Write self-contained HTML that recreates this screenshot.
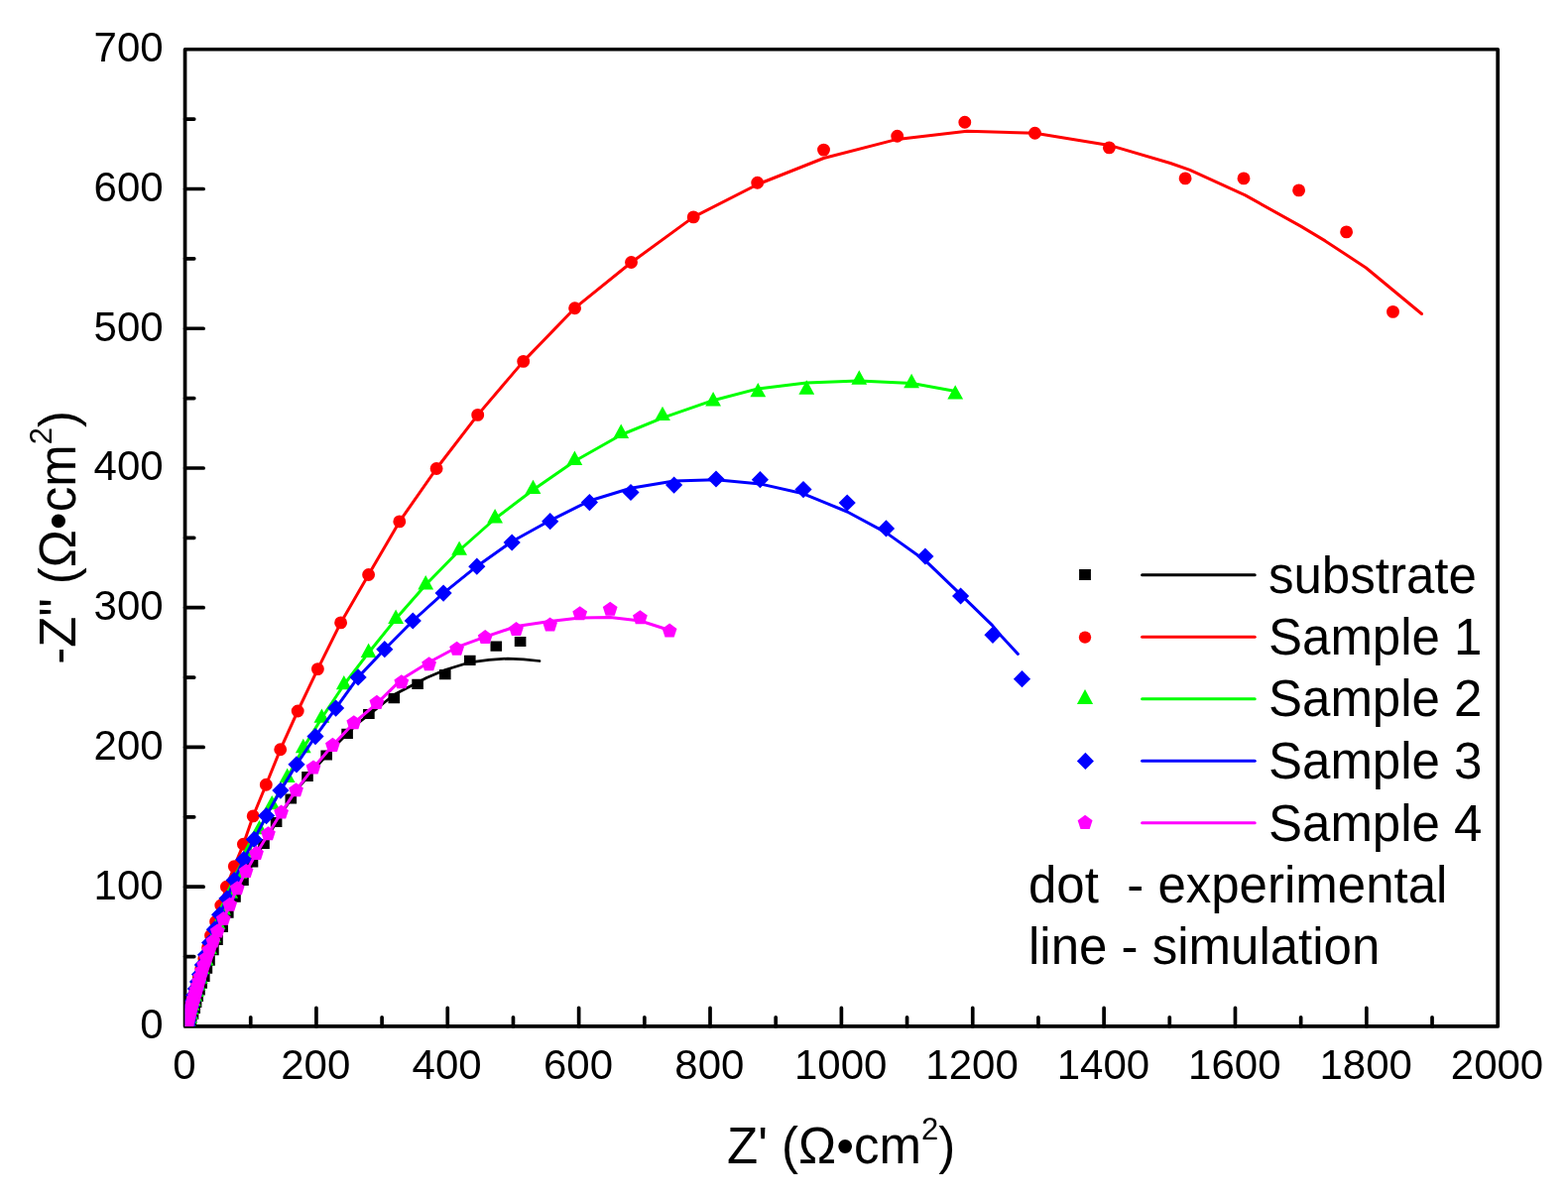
<!DOCTYPE html><html><head><meta charset="utf-8"><title>Nyquist plot</title><style>html,body{margin:0;padding:0;background:#fff;}svg{display:block;}text{font-family:"Liberation Sans",Arial,sans-serif;fill:#000;}</style></head><body>
<svg width="1581" height="1209" viewBox="0 0 1581 1209">
<rect width="1581" height="1209" fill="#fff"/>
<defs><clipPath id="c"><rect x="186.55" y="49.75" width="1323.65" height="985.20"/></clipPath></defs>
<rect x="186.55" y="49.75" width="1323.65" height="985.20" fill="none" stroke="#000" stroke-width="3.7" stroke-linejoin="round"/>
<path d="M252.73,1034.95V1025.75M318.92,1034.95V1016.35M385.10,1034.95V1025.75M451.28,1034.95V1016.35M517.46,1034.95V1025.75M583.64,1034.95V1016.35M649.83,1034.95V1025.75M716.01,1034.95V1016.35M782.19,1034.95V1025.75M848.38,1034.95V1016.35M914.56,1034.95V1025.75M980.74,1034.95V1016.35M1046.92,1034.95V1025.75M1113.11,1034.95V1016.35M1179.29,1034.95V1025.75M1245.47,1034.95V1016.35M1311.65,1034.95V1025.75M1377.84,1034.95V1016.35M1444.02,1034.95V1025.75M186.55,964.58H195.75M186.55,894.21H205.15M186.55,823.84H195.75M186.55,753.46H205.15M186.55,683.09H195.75M186.55,612.72H205.15M186.55,542.35H195.75M186.55,471.98H205.15M186.55,401.61H195.75M186.55,331.24H205.15M186.55,260.86H195.75M186.55,190.49H205.15M186.55,120.12H195.75" stroke="#000" stroke-width="3.7" stroke-linecap="round" fill="none"/>
<text transform="translate(185.85,1088.1)" font-size="42" text-anchor="middle">0</text>
<text transform="translate(318.22,1088.1)" font-size="42" text-anchor="middle">200</text>
<text transform="translate(450.58,1088.1)" font-size="42" text-anchor="middle">400</text>
<text transform="translate(582.94,1088.1)" font-size="42" text-anchor="middle">600</text>
<text transform="translate(715.31,1088.1)" font-size="42" text-anchor="middle">800</text>
<text transform="translate(847.67,1088.1)" font-size="42" text-anchor="middle">1000</text>
<text transform="translate(980.04,1088.1)" font-size="42" text-anchor="middle">1200</text>
<text transform="translate(1112.40,1088.1)" font-size="42" text-anchor="middle">1400</text>
<text transform="translate(1244.77,1088.1)" font-size="42" text-anchor="middle">1600</text>
<text transform="translate(1377.13,1088.1)" font-size="42" text-anchor="middle">1800</text>
<text transform="translate(1509.50,1088.1)" font-size="42" text-anchor="middle">2000</text>
<text transform="translate(164.6,1047.35)" font-size="42" text-anchor="end">0</text>
<text transform="translate(164.6,906.61)" font-size="42" text-anchor="end">100</text>
<text transform="translate(164.6,765.86)" font-size="42" text-anchor="end">200</text>
<text transform="translate(164.6,625.12)" font-size="42" text-anchor="end">300</text>
<text transform="translate(164.6,484.38)" font-size="42" text-anchor="end">400</text>
<text transform="translate(164.6,343.64)" font-size="42" text-anchor="end">500</text>
<text transform="translate(164.6,202.89)" font-size="42" text-anchor="end">600</text>
<text transform="translate(164.6,62.15)" font-size="42" text-anchor="end">700</text>
<text x="733" y="1172.7" font-size="51">Z&#39; (Ω•cm<tspan font-size="31" dy="-24">2</tspan><tspan dy="24">)</tspan></text>
<text transform="translate(76,669.7) rotate(-90)" x="0" y="0" font-size="51">-Z" (Ω•cm<tspan font-size="31" dy="-24">2</tspan><tspan dy="24">)</tspan></text>
<g clip-path="url(#c)">
<path d="M518.80,641.90h11.6v10.2h-11.6zM494.50,646.50h11.6v10.2h-11.6zM468.00,660.70h11.6v10.2h-11.6zM443.00,675.10h11.6v10.2h-11.6zM415.30,684.70h11.6v10.2h-11.6zM391.50,699.00h11.6v10.2h-11.6zM366.10,714.90h11.6v10.2h-11.6zM344.30,734.80h11.6v10.2h-11.6zM323.40,756.40h11.6v10.2h-11.6zM304.20,777.90h11.6v10.2h-11.6zM287.50,800.40h11.6v10.2h-11.6zM272.80,823.90h11.6v10.2h-11.6zM260.20,845.90h11.6v10.2h-11.6zM248.70,864.40h11.6v10.2h-11.6zM239.20,882.90h11.6v10.2h-11.6zM231.20,899.50h11.6v10.2h-11.6zM224.00,915.50h11.6v10.2h-11.6zM218.40,929.70h11.6v10.2h-11.6zM213.20,942.70h11.6v10.2h-11.6zM209.10,953.10h11.6v10.2h-11.6zM205.20,963.50h11.6v10.2h-11.6zM202.60,971.60h11.6v10.2h-11.6zM200.00,979.90h11.6v10.2h-11.6zM197.40,986.50h11.6v10.2h-11.6zM195.20,993.40h11.6v10.2h-11.6zM193.40,999.90h11.6v10.2h-11.6zM191.80,1005.90h11.6v10.2h-11.6zM190.40,1011.90h11.6v10.2h-11.6zM188.70,1017.90h11.6v10.2h-11.6z" fill="#000000"/>
<path d="M544.00,666.50 L528.00,664.80 L512.00,664.10 L493.00,665.30 L474.00,667.80 L448.80,675.50 L430.00,683.50 L420.50,688.50 L397.30,700.50 L380.00,714.50 L360.00,730.00 L340.00,750.00 L320.00,772.00 L301.00,794.00 L286.00,817.00 L272.00,840.00 L260.00,861.00 L250.00,880.00 L241.00,899.00 L233.50,916.00 L227.00,931.00 L221.00,946.00 L215.50,960.00 L211.00,972.00 L207.00,984.00 L203.50,996.00 L200.50,1008.00 L198.00,1020.00 L196.50,1036.00" fill="none" stroke="#000000" stroke-width="2.7" stroke-linejoin="round" stroke-linecap="round"/>
<path d="M1398.05,314.40a6.45,6.45 0 1,0 12.9,0a6.45,6.45 0 1,0 -12.9,0zM1351.15,233.90a6.45,6.45 0 1,0 12.9,0a6.45,6.45 0 1,0 -12.9,0zM1303.15,191.90a6.45,6.45 0 1,0 12.9,0a6.45,6.45 0 1,0 -12.9,0zM1247.55,179.90a6.45,6.45 0 1,0 12.9,0a6.45,6.45 0 1,0 -12.9,0zM1188.65,179.90a6.45,6.45 0 1,0 12.9,0a6.45,6.45 0 1,0 -12.9,0zM1111.95,148.90a6.45,6.45 0 1,0 12.9,0a6.45,6.45 0 1,0 -12.9,0zM1037.05,134.30a6.45,6.45 0 1,0 12.9,0a6.45,6.45 0 1,0 -12.9,0zM966.35,123.20a6.45,6.45 0 1,0 12.9,0a6.45,6.45 0 1,0 -12.9,0zM898.25,137.30a6.45,6.45 0 1,0 12.9,0a6.45,6.45 0 1,0 -12.9,0zM824.05,151.10a6.45,6.45 0 1,0 12.9,0a6.45,6.45 0 1,0 -12.9,0zM757.25,184.30a6.45,6.45 0 1,0 12.9,0a6.45,6.45 0 1,0 -12.9,0zM692.75,218.90a6.45,6.45 0 1,0 12.9,0a6.45,6.45 0 1,0 -12.9,0zM630.05,264.50a6.45,6.45 0 1,0 12.9,0a6.45,6.45 0 1,0 -12.9,0zM573.15,310.70a6.45,6.45 0 1,0 12.9,0a6.45,6.45 0 1,0 -12.9,0zM521.25,364.40a6.45,6.45 0 1,0 12.9,0a6.45,6.45 0 1,0 -12.9,0zM475.25,418.40a6.45,6.45 0 1,0 12.9,0a6.45,6.45 0 1,0 -12.9,0zM433.65,472.50a6.45,6.45 0 1,0 12.9,0a6.45,6.45 0 1,0 -12.9,0zM396.35,525.90a6.45,6.45 0 1,0 12.9,0a6.45,6.45 0 1,0 -12.9,0zM365.15,579.50a6.45,6.45 0 1,0 12.9,0a6.45,6.45 0 1,0 -12.9,0zM337.15,627.90a6.45,6.45 0 1,0 12.9,0a6.45,6.45 0 1,0 -12.9,0zM313.95,674.60a6.45,6.45 0 1,0 12.9,0a6.45,6.45 0 1,0 -12.9,0zM293.75,717.00a6.45,6.45 0 1,0 12.9,0a6.45,6.45 0 1,0 -12.9,0zM276.25,755.70a6.45,6.45 0 1,0 12.9,0a6.45,6.45 0 1,0 -12.9,0zM261.85,791.20a6.45,6.45 0 1,0 12.9,0a6.45,6.45 0 1,0 -12.9,0zM248.75,822.90a6.45,6.45 0 1,0 12.9,0a6.45,6.45 0 1,0 -12.9,0zM238.95,851.20a6.45,6.45 0 1,0 12.9,0a6.45,6.45 0 1,0 -12.9,0zM229.85,873.60a6.45,6.45 0 1,0 12.9,0a6.45,6.45 0 1,0 -12.9,0zM221.95,894.20a6.45,6.45 0 1,0 12.9,0a6.45,6.45 0 1,0 -12.9,0zM216.35,913.00a6.45,6.45 0 1,0 12.9,0a6.45,6.45 0 1,0 -12.9,0zM211.15,929.40a6.45,6.45 0 1,0 12.9,0a6.45,6.45 0 1,0 -12.9,0zM206.05,943.30a6.45,6.45 0 1,0 12.9,0a6.45,6.45 0 1,0 -12.9,0zM203.15,955.50a6.45,6.45 0 1,0 12.9,0a6.45,6.45 0 1,0 -12.9,0zM199.35,966.50a6.45,6.45 0 1,0 12.9,0a6.45,6.45 0 1,0 -12.9,0zM196.35,976.50a6.45,6.45 0 1,0 12.9,0a6.45,6.45 0 1,0 -12.9,0zM193.85,985.50a6.45,6.45 0 1,0 12.9,0a6.45,6.45 0 1,0 -12.9,0zM191.85,993.50a6.45,6.45 0 1,0 12.9,0a6.45,6.45 0 1,0 -12.9,0zM190.15,1000.50a6.45,6.45 0 1,0 12.9,0a6.45,6.45 0 1,0 -12.9,0zM188.55,1007.00a6.45,6.45 0 1,0 12.9,0a6.45,6.45 0 1,0 -12.9,0zM187.15,1013.00a6.45,6.45 0 1,0 12.9,0a6.45,6.45 0 1,0 -12.9,0zM185.95,1019.00a6.45,6.45 0 1,0 12.9,0a6.45,6.45 0 1,0 -12.9,0zM184.85,1024.50a6.45,6.45 0 1,0 12.9,0a6.45,6.45 0 1,0 -12.9,0zM183.85,1030.00a6.45,6.45 0 1,0 12.9,0a6.45,6.45 0 1,0 -12.9,0zM183.05,1035.00a6.45,6.45 0 1,0 12.9,0a6.45,6.45 0 1,0 -12.9,0z" fill="#ff0000"/>
<path d="M1433.50,316.50 L1377.30,270.00 L1336.20,242.90 L1311.60,228.10 L1255.60,196.90 L1199.70,171.40 L1180.00,164.50 L1118.40,146.40 L1043.50,134.30 L975.10,132.30 L904.70,140.40 L830.50,159.50 L763.70,186.00 L699.20,218.90 L636.70,264.50 L579.60,310.70 L527.70,364.40 L481.70,418.40 L440.10,472.50 L402.80,525.90 L371.60,579.50 L343.60,627.90 L320.40,674.60 L300.20,717.00 L282.70,755.70 L268.30,791.20 L255.20,822.90 L245.40,851.20 L236.30,873.60 L228.40,894.20 L222.80,913.00 L217.60,929.40 L212.50,943.30 L209.60,955.50 L205.80,966.50 L202.80,976.50 L200.30,985.50 L198.30,993.50 L196.60,1000.50 L195.00,1007.00 L193.60,1013.00 L192.40,1019.00 L191.30,1024.50 L190.30,1030.00 L189.50,1035.00 L189.20,1037.00" fill="none" stroke="#ff0000" stroke-width="3" stroke-linejoin="round" stroke-linecap="round"/>
<path d="M963.20,388.20L971.10,402.60L955.30,402.60zM919.10,376.80L927.00,391.20L911.20,391.20zM866.30,373.30L874.20,387.70L858.40,387.70zM813.30,383.30L821.20,397.70L805.40,397.70zM764.30,385.90L772.20,400.30L756.40,400.30zM719.10,395.10L727.00,409.50L711.20,409.50zM668.00,409.70L675.90,424.10L660.10,424.10zM626.20,427.50L634.10,441.90L618.30,441.90zM579.40,454.50L587.30,468.90L571.50,468.90zM537.50,483.70L545.40,498.10L529.60,498.10zM499.10,513.00L507.00,527.40L491.20,527.40zM463.10,545.40L471.00,559.80L455.20,559.80zM429.20,580.10L437.10,594.50L421.30,594.50zM399.10,614.50L407.00,628.90L391.20,628.90zM371.60,648.60L379.50,663.00L363.70,663.00zM346.80,680.90L354.70,695.30L338.90,695.30zM324.40,714.40L332.30,728.80L316.50,728.80zM305.80,744.80L313.70,759.20L297.90,759.20zM289.70,774.60L297.60,789.00L281.80,789.00zM274.20,801.90L282.10,816.30L266.30,816.30zM261.50,826.90L269.40,841.30L253.60,841.30zM250.50,849.40L258.40,863.80L242.60,863.80zM241.50,871.40L249.40,885.80L233.60,885.80zM232.20,891.30L240.10,905.70L224.30,905.70zM225.10,908.00L233.00,922.40L217.20,922.40zM219.60,922.50L227.50,936.90L211.70,936.90zM215.10,935.90L223.00,950.30L207.20,950.30zM211.20,947.90L219.10,962.30L203.30,962.30zM207.60,959.00L215.50,973.40L199.70,973.40zM203.80,967.90L211.70,982.30L195.90,982.30zM201.80,977.30L209.70,991.70L193.90,991.70zM199.60,984.10L207.50,998.50L191.70,998.50zM197.90,990.60L205.80,1005.00L190.00,1005.00zM196.20,995.30L204.10,1009.70L188.30,1009.70zM194.90,1000.00L202.80,1014.40L187.00,1014.40zM193.60,1004.30L201.50,1018.70L185.70,1018.70zM192.70,1008.60L200.60,1023.00L184.80,1023.00zM192.10,1013.40L200.00,1027.80L184.20,1027.80zM191.20,1017.70L199.10,1032.10L183.30,1032.10zM190.40,1022.00L198.30,1036.40L182.50,1036.40zM189.70,1026.40L197.60,1040.80L181.80,1040.80z" fill="#00ff00"/>
<path d="M963.50,394.50 L919.60,386.50 L865.80,383.90 L813.30,385.90 L764.30,391.90 L719.10,403.70 L668.00,421.30 L626.20,438.50 L579.40,465.00 L537.50,494.00 L499.10,523.00 L463.10,555.00 L429.20,589.70 L399.10,624.10 L371.60,658.20 L346.80,690.50 L324.40,724.00 L305.80,754.40 L289.70,784.20 L274.20,811.50 L261.50,836.50 L250.50,859.00 L241.50,881.00 L232.20,900.90 L225.10,917.60 L219.60,932.10 L215.10,945.50 L211.20,957.50 L207.60,968.60 L203.80,977.50 L201.80,986.90 L199.60,993.70 L197.90,1000.20 L196.20,1004.90 L194.90,1009.60 L193.60,1013.90 L192.70,1018.20 L192.10,1023.00 L191.20,1027.30 L190.40,1031.60 L189.70,1036.00 L192.00,1037.00" fill="none" stroke="#00ff00" stroke-width="3" stroke-linejoin="round" stroke-linecap="round"/>
<path d="M1030.50,676.10L1039.10,684.70L1030.50,693.30L1021.90,684.70zM1001.00,631.70L1009.60,640.30L1001.00,648.90L992.40,640.30zM968.60,592.40L977.20,601.00L968.60,609.60L960.00,601.00zM932.90,552.40L941.50,561.00L932.90,569.60L924.30,561.00zM893.50,524.30L902.10,532.90L893.50,541.50L884.90,532.90zM854.20,498.40L862.80,507.00L854.20,515.60L845.60,507.00zM810.00,485.00L818.60,493.60L810.00,502.20L801.40,493.60zM766.40,475.10L775.00,483.70L766.40,492.30L757.80,483.70zM722.00,474.40L730.60,483.00L722.00,491.60L713.40,483.00zM679.60,480.50L688.20,489.10L679.60,497.70L671.00,489.10zM636.00,487.90L644.60,496.50L636.00,505.10L627.40,496.50zM594.40,498.00L603.00,506.60L594.40,515.20L585.80,506.60zM554.70,517.10L563.30,525.70L554.70,534.30L546.10,525.70zM516.20,538.40L524.80,547.00L516.20,555.60L507.60,547.00zM480.80,562.60L489.40,571.20L480.80,579.80L472.20,571.20zM447.10,589.50L455.70,598.10L447.10,606.70L438.50,598.10zM416.30,617.40L424.90,626.00L416.30,634.60L407.70,626.00zM387.80,646.10L396.40,654.70L387.80,663.30L379.20,654.70zM361.10,674.30L369.70,682.90L361.10,691.50L352.50,682.90zM338.60,705.50L347.20,714.10L338.60,722.70L330.00,714.10zM318.00,734.00L326.60,742.60L318.00,751.20L309.40,742.60zM299.00,762.20L307.60,770.80L299.00,779.40L290.40,770.80zM282.90,788.50L291.50,797.10L282.90,805.70L274.30,797.10zM268.60,814.00L277.20,822.60L268.60,831.20L260.00,822.60zM256.30,837.80L264.90,846.40L256.30,855.00L247.70,846.40zM245.80,858.10L254.40,866.70L245.80,875.30L237.20,866.70zM236.20,879.00L244.80,887.60L236.20,896.20L227.60,887.60zM228.90,897.50L237.50,906.10L228.90,914.70L220.30,906.10zM221.60,913.70L230.20,922.30L221.60,930.90L213.00,922.30zM216.40,928.60L225.00,937.20L216.40,945.80L207.80,937.20zM211.60,942.00L220.20,950.60L211.60,959.20L203.00,950.60zM207.50,954.20L216.10,962.80L207.50,971.40L198.90,962.80zM204.30,964.30L212.90,972.90L204.30,981.50L195.70,972.90zM201.50,973.80L210.10,982.40L201.50,991.00L192.90,982.40zM199.50,981.40L208.10,990.00L199.50,998.60L190.90,990.00zM197.40,988.50L206.00,997.10L197.40,1005.70L188.80,997.10zM195.60,994.90L204.20,1003.50L195.60,1012.10L187.00,1003.50zM194.00,1000.90L202.60,1009.50L194.00,1018.10L185.40,1009.50zM192.60,1006.40L201.20,1015.00L192.60,1023.60L184.00,1015.00zM191.40,1011.40L200.00,1020.00L191.40,1028.60L182.80,1020.00zM190.30,1016.40L198.90,1025.00L190.30,1033.60L181.70,1025.00zM189.30,1021.40L197.90,1030.00L189.30,1038.60L180.70,1030.00zM188.50,1026.40L197.10,1035.00L188.50,1043.60L179.90,1035.00z" fill="#0000ff"/>
<path d="M1026.40,659.40 L1009.50,641.30 L1000.60,630.60 L968.80,599.60 L932.90,565.20 L893.50,537.10 L854.20,516.00 L810.00,497.80 L766.20,487.90 L722.00,483.80 L679.60,485.10 L636.00,492.30 L594.40,505.00 L554.70,524.80 L516.30,546.00 L480.60,571.20 L447.10,598.10 L416.30,626.00 L387.80,654.70 L361.10,682.90 L338.60,714.10 L318.00,742.60 L299.00,770.80 L282.90,797.10 L268.60,822.60 L256.30,846.40 L245.80,866.70 L236.20,887.60 L228.90,906.10 L221.60,922.30 L216.40,937.20 L211.80,952.00 L208.00,966.00 L204.50,980.00 L201.30,995.00 L198.90,1008.00 L196.80,1021.00 L194.80,1037.00" fill="none" stroke="#0000ff" stroke-width="3" stroke-linejoin="round" stroke-linecap="round"/>
<path d="M675.10,628.53L682.49,633.90L679.67,642.59L670.53,642.59L667.71,633.90zM645.40,615.13L652.79,620.50L649.97,629.19L640.83,629.19L638.01,620.50zM615.20,606.73L622.59,612.10L619.77,620.79L610.63,620.79L607.81,612.10zM584.70,611.13L592.09,616.50L589.27,625.19L580.13,625.19L577.31,616.50zM554.60,622.43L561.99,627.80L559.17,636.49L550.03,636.49L547.21,627.80zM520.50,627.03L527.89,632.40L525.07,641.09L515.93,641.09L513.11,632.40zM489.20,635.03L496.59,640.40L493.77,649.09L484.63,649.09L481.81,640.40zM460.60,646.73L467.99,652.10L465.17,660.79L456.03,660.79L453.21,652.10zM432.60,662.23L439.99,667.60L437.17,676.29L428.03,676.29L425.21,667.60zM404.80,680.23L412.19,685.60L409.37,694.29L400.23,694.29L397.41,685.60zM379.90,700.83L387.29,706.20L384.47,714.89L375.33,714.89L372.51,706.20zM356.80,721.23L364.19,726.60L361.37,735.29L352.23,735.29L349.41,726.60zM335.40,743.83L342.79,749.20L339.97,757.89L330.83,757.89L328.01,749.20zM316.00,766.43L323.39,771.80L320.57,780.49L311.43,780.49L308.61,771.80zM298.50,789.13L305.89,794.50L303.07,803.19L293.93,803.19L291.11,794.50zM283.60,811.53L290.99,816.90L288.17,825.59L279.03,825.59L276.21,816.90zM270.40,833.23L277.79,838.60L274.97,847.29L265.83,847.29L263.01,838.60zM258.50,852.83L265.89,858.20L263.07,866.89L253.93,866.89L251.11,858.20zM248.10,870.93L255.49,876.30L252.67,884.99L243.53,884.99L240.71,876.30zM239.20,888.23L246.59,893.60L243.77,902.29L234.63,902.29L231.81,893.60zM231.70,904.63L239.09,910.00L236.27,918.69L227.13,918.69L224.31,910.00zM225.30,919.03L232.69,924.40L229.87,933.09L220.73,933.09L217.91,924.40zM219.30,931.43L226.69,936.80L223.87,945.49L214.73,945.49L211.91,936.80zM214.87,941.50L222.26,946.87L219.44,955.56L210.31,955.56L207.49,946.87zM210.98,950.36L218.37,955.73L215.55,964.42L206.41,964.42L203.59,955.73zM208.10,958.38L215.49,963.75L212.67,972.43L203.53,972.43L200.71,963.75zM205.62,965.45L213.01,970.82L210.19,979.51L201.06,979.51L198.23,970.82zM203.58,971.72L210.97,977.09L208.15,985.78L199.02,985.78L196.19,977.09zM201.98,977.30L209.37,982.67L206.55,991.36L197.42,991.36L194.59,982.67zM200.57,982.21L207.96,987.58L205.14,996.27L196.01,996.27L193.18,987.58zM199.33,986.53L206.72,991.90L203.90,1000.59L194.77,1000.59L191.94,991.90zM198.24,990.34L205.63,995.71L202.81,1004.39L193.68,1004.39L190.85,995.71zM197.29,993.68L204.68,999.05L201.85,1007.74L192.72,1007.74L189.90,999.05zM196.45,996.63L203.84,1002.00L201.01,1010.69L191.88,1010.69L189.06,1002.00zM195.71,999.22L203.10,1004.59L200.27,1013.28L191.14,1013.28L188.32,1004.59zM195.06,1001.50L202.45,1006.87L199.62,1015.56L190.49,1015.56L187.67,1006.87zM194.48,1003.51L201.87,1008.88L199.05,1017.57L189.92,1017.57L187.10,1008.88zM193.98,1005.28L201.37,1010.65L198.55,1019.33L189.41,1019.33L186.59,1010.65zM193.54,1006.83L200.93,1012.20L198.11,1020.89L188.97,1020.89L186.15,1012.20zM193.15,1008.20L200.54,1013.57L197.72,1022.26L188.58,1022.26L185.76,1013.57zM192.80,1009.41L200.19,1014.77L197.37,1023.46L188.24,1023.46L185.42,1014.77zM192.48,1010.56L199.87,1015.93L197.04,1024.62L187.91,1024.62L185.09,1015.93zM192.15,1011.71L199.54,1017.08L196.71,1025.77L187.58,1025.77L184.76,1017.08zM191.85,1012.88L199.24,1018.24L196.42,1026.93L187.28,1026.93L184.46,1018.24zM191.58,1014.04L198.97,1019.41L196.14,1028.10L187.01,1028.10L184.19,1019.41zM191.30,1015.21L198.69,1020.58L195.87,1029.27L186.74,1029.27L183.91,1020.58zM191.03,1016.38L198.42,1021.75L195.60,1030.44L186.46,1030.44L183.64,1021.75zM190.76,1017.55L198.15,1022.92L195.33,1031.61L186.19,1031.61L183.37,1022.92zM190.49,1018.72L197.88,1024.09L195.05,1032.77L185.92,1032.77L183.10,1024.09zM190.21,1019.89L197.60,1025.26L194.78,1033.94L185.65,1033.94L182.82,1025.26zM189.94,1021.06L197.33,1026.42L194.51,1035.11L185.37,1035.11L182.55,1026.42zM189.67,1022.22L197.06,1027.59L194.24,1036.28L185.10,1036.28L182.28,1027.59zM189.40,1023.39L196.78,1028.76L193.96,1037.45L184.83,1037.45L182.01,1028.76zM189.12,1024.56L196.51,1029.93L193.69,1038.62L184.56,1038.62L181.73,1029.93zM188.85,1025.73L196.24,1031.10L193.42,1039.79L184.28,1039.79L181.46,1031.10zM188.58,1026.90L195.97,1032.27L193.14,1040.96L184.01,1040.96L181.19,1032.27zM188.37,1028.08L195.76,1033.45L192.94,1042.14L183.81,1042.14L180.98,1033.45zM188.19,1029.27L195.58,1034.64L192.76,1043.32L183.63,1043.32L180.80,1034.64zM188.02,1030.45L195.41,1035.82L192.58,1044.51L183.45,1044.51L180.63,1035.82zM187.84,1031.64L195.23,1037.01L192.41,1045.70L183.27,1045.70L180.45,1037.01zM187.66,1032.83L195.05,1038.20L192.23,1046.88L183.09,1046.88L180.27,1038.20zM187.48,1034.01L194.87,1039.38L192.05,1048.07L182.92,1048.07L180.09,1039.38zM187.30,1035.20L194.69,1040.57L191.87,1049.26L182.74,1049.26L179.91,1040.57zM187.13,1036.39L194.52,1041.76L191.69,1050.44L182.56,1050.44L179.74,1041.76z" fill="#ff00ff"/>
<path d="M675.10,635.50 L645.60,626.00 L615.40,622.40 L584.80,623.00 L554.50,626.40 L520.70,631.50 L489.30,642.20 L460.60,652.70 L432.20,668.00 L404.70,685.10 L380.00,709.40 L356.80,729.00 L335.40,751.60 L316.00,774.20 L298.50,796.90 L283.60,819.30 L270.40,841.00 L258.50,860.60 L248.10,878.70 L239.20,896.00 L231.70,912.40 L225.30,926.80 L219.30,939.20 L210.60,959.00 L204.30,977.00 L197.70,1000.00 L192.00,1020.00 L188.50,1035.00" fill="none" stroke="#ff00ff" stroke-width="3" stroke-linejoin="round" stroke-linecap="round"/>
</g>
<path d="M1088.08,574.00h11.85v11.0h-11.85z" fill="#000000"/>
<path d="M1151.6,579.80H1265.2" stroke="#000000" stroke-width="3" stroke-linecap="round"/>
<text x="1279" y="598.2" font-size="51">substrate</text>
<path d="M1087.80,642.60a6.2,6.2 0 1,0 12.4,0a6.2,6.2 0 1,0 -12.4,0z" fill="#ff0000"/>
<path d="M1151.6,642.30H1265.2" stroke="#ff0000" stroke-width="3" stroke-linecap="round"/>
<text x="1279" y="660.1" font-size="51">Sample 1</text>
<path d="M1094.00,694.88L1102.10,709.98L1085.90,709.98z" fill="#00ff00"/>
<path d="M1151.6,704.80H1265.2" stroke="#00ff00" stroke-width="3" stroke-linecap="round"/>
<text x="1279" y="722.0" font-size="51">Sample 2</text>
<path d="M1094.40,758.85L1102.95,767.40L1094.40,775.95L1085.85,767.40z" fill="#0000ff"/>
<path d="M1151.6,767.30H1265.2" stroke="#0000ff" stroke-width="3" stroke-linecap="round"/>
<text x="1279" y="784.7" font-size="51">Sample 3</text>
<path d="M1094.10,821.87L1101.55,827.28L1098.70,836.03L1089.50,836.03L1086.65,827.28z" fill="#ff00ff"/>
<path d="M1151.6,829.80H1265.2" stroke="#ff00ff" stroke-width="3" stroke-linecap="round"/>
<text x="1279" y="847.6" font-size="51">Sample 4</text>
<text x="1037" y="909.6" font-size="51" xml:space="preserve" style="white-space:pre">dot  - experimental</text>
<text x="1037" y="971.6" font-size="51">line - simulation</text>
</svg></body></html>
